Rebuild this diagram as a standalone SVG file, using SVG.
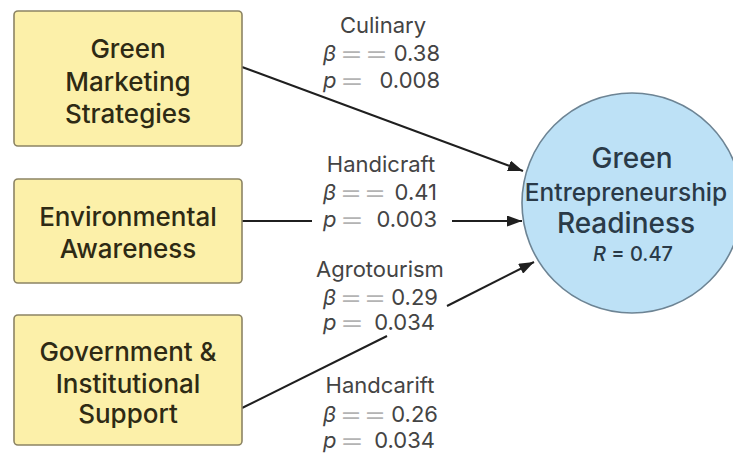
<svg xmlns="http://www.w3.org/2000/svg" width="733" height="454" viewBox="0 0 733 454">
  <defs>
    <marker id="arrow" viewBox="0 0 15 11" refX="15" refY="5.5" markerWidth="15" markerHeight="11" markerUnits="userSpaceOnUse" orient="auto">
      <path d="M0,0 L15,5.5 L0,11 Z" fill="#1f1f1f"/>
    </marker>
    <style>
      .box { fill: #fcf0a9; stroke: #8c8464; stroke-width: 1.6; }
      .box-text { font-family: Inter, "Liberation Sans", sans-serif; font-size: 26px; font-weight: 500; fill: #2e2a14; text-anchor: middle; }
      .outcome { fill: #bde1f6; stroke: #6d8494; stroke-width: 1.6; }
      .outcome-text { font-family: Inter, "Liberation Sans", sans-serif; font-size: 28px; font-weight: 500; fill: #2a3a48; text-anchor: middle; }
      .edge { stroke: #1f1f1f; stroke-width: 2; fill: none; }
      .lbl { font-family: Inter, "Liberation Sans", sans-serif; font-size: 22px; fill: #444; }
      .lbl-title { text-anchor: middle; }
      .sym { font-style: italic; }
      .eq { fill: #b4b4b4; }
      .num { text-anchor: end; }
    </style>
  </defs>

  <rect width="733" height="454" fill="#ffffff"/>

  <!-- connectors -->
  <g id="connectors">
    <line class="edge" x1="242" y1="67" x2="523" y2="171" marker-end="url(#arrow)"/>
    <line class="edge" x1="242" y1="221" x2="312" y2="221"/>
    <line class="edge" x1="452" y1="221" x2="522" y2="221" marker-end="url(#arrow)"/>
    <line class="edge" x1="242" y1="408" x2="387" y2="336"/>
    <line class="edge" x1="447" y1="306" x2="534" y2="262" marker-end="url(#arrow)"/>
  </g>

  <!-- path coefficient labels -->
  <g id="edge-labels">
    <g id="label-culinary">
      <text class="lbl lbl-title" x="383" y="33">Culinary</text>
      <text class="lbl" y="61"><tspan class="sym" x="323">β</tspan><tspan class="eq" x="339" textLength="50" lengthAdjust="spacingAndGlyphs">==</tspan></text>
      <text class="lbl num" x="440" y="61">0.38</text>
      <text class="lbl" y="88"><tspan class="sym" x="323">p</tspan><tspan class="eq" x="339" textLength="26" lengthAdjust="spacingAndGlyphs">=</tspan></text>
      <text class="lbl num" x="440" y="88">0.008</text>
    </g>
    <g id="label-handicraft">
      <text class="lbl lbl-title" x="381" y="172">Handicraft</text>
      <text class="lbl" y="200"><tspan class="sym" x="323">β</tspan><tspan class="eq" x="339" textLength="48" lengthAdjust="spacingAndGlyphs">==</tspan></text>
      <text class="lbl num" x="437" y="200">0.41</text>
      <text class="lbl" y="227"><tspan class="sym" x="323">p</tspan><tspan class="eq" x="339" textLength="26" lengthAdjust="spacingAndGlyphs">=</tspan></text>
      <text class="lbl num" x="437" y="227">0.003</text>
    </g>
    <g id="label-agrotourism">
      <text class="lbl lbl-title" x="380" y="277">Agrotourism</text>
      <text class="lbl" y="305"><tspan class="sym" x="323">β</tspan><tspan class="eq" x="339" textLength="48" lengthAdjust="spacingAndGlyphs">==</tspan></text>
      <text class="lbl num" x="438" y="305">0.29</text>
      <text class="lbl" y="330"><tspan class="sym" x="323">p</tspan><tspan class="eq" x="339" textLength="26" lengthAdjust="spacingAndGlyphs">=</tspan></text>
      <text class="lbl num" x="435" y="330">0.034</text>
    </g>
    <g id="label-handcarift">
      <text class="lbl lbl-title" x="380" y="393">Handcarift</text>
      <text class="lbl" y="422"><tspan class="sym" x="323">β</tspan><tspan class="eq" x="339" textLength="48" lengthAdjust="spacingAndGlyphs">==</tspan></text>
      <text class="lbl num" x="438" y="422">0.26</text>
      <text class="lbl" y="448"><tspan class="sym" x="323">p</tspan><tspan class="eq" x="339" textLength="26" lengthAdjust="spacingAndGlyphs">=</tspan></text>
      <text class="lbl num" x="435" y="448">0.034</text>
    </g>
  </g>

  <!-- predictor nodes -->
  <g id="node-marketing">
    <rect class="box" x="14" y="11" width="228" height="135" rx="4"/>
    <text class="box-text" x="128" y="58">Green</text>
    <text class="box-text" x="128" y="91">Marketing</text>
    <text class="box-text" x="128" y="123">Strategies</text>
  </g>
  <g id="node-awareness">
    <rect class="box" x="14" y="179" width="228" height="104" rx="4"/>
    <text class="box-text" x="128" y="226">Environmental</text>
    <text class="box-text" x="128" y="258">Awareness</text>
  </g>
  <g id="node-support">
    <rect class="box" x="14" y="315" width="228" height="130" rx="4"/>
    <text class="box-text" x="128" y="361">Government &amp;</text>
    <text class="box-text" x="128" y="393">Institutional</text>
    <text class="box-text" x="128" y="423">Support</text>
  </g>

  <!-- outcome node -->
  <g id="node-readiness">
    <circle class="outcome" cx="632" cy="203" r="110"/>
    <text class="outcome-text" x="632" y="168">Green</text>
    <text class="outcome-text" x="626" y="201" style="font-size:24.5px">Entrepreneurship</text>
    <text class="outcome-text" x="626" y="233">Readiness</text>
    <text class="outcome-text" x="633" y="261" style="font-size:20px"><tspan font-style="italic">R</tspan> = 0.47</text>
  </g>
</svg>
